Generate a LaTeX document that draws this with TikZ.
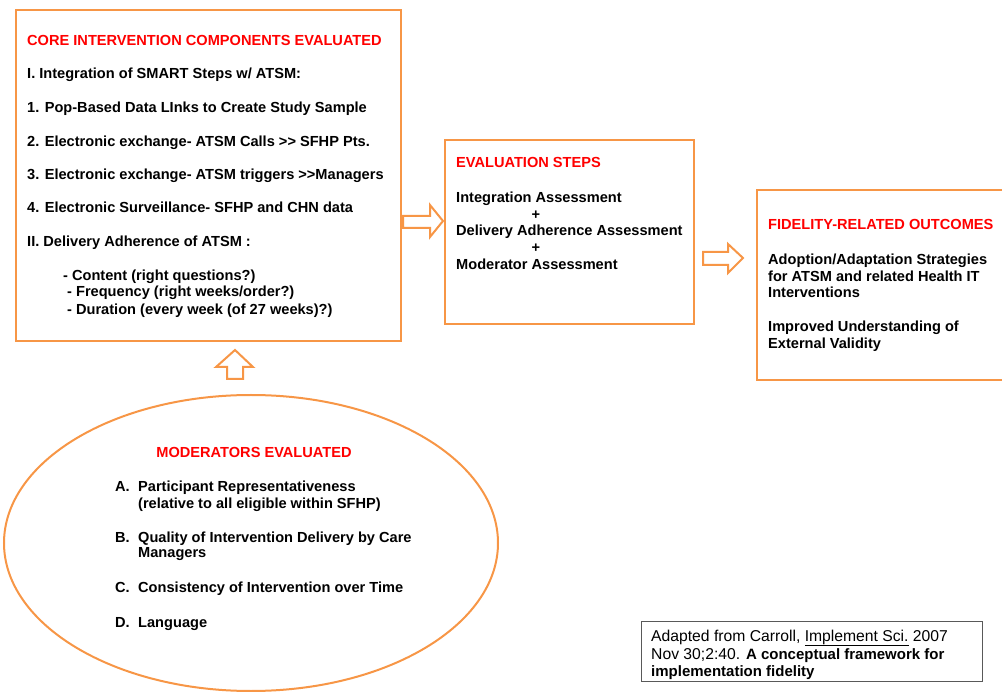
\documentclass[tikz,border=0pt]{standalone}
\usepackage{fontspec}
\setmainfont[Ligatures=NoCommon]{Liberation Sans}
\usetikzlibrary{shapes.geometric}
\definecolor{orng}{RGB}{247,150,70}
\definecolor{hred}{RGB}{255,0,0}
\newcommand{\citebf}[1]{{\fontsize{15}{18}\selectfont\bfseries #1}}
\begin{document}
\begin{tikzpicture}[x=1pt,y=-1pt,
  box/.style={draw=orng,line width=2pt,anchor=north west,inner sep=0pt},
  txt/.style={anchor=base west,inner sep=0pt,font=\fontsize{14.6}{16}\selectfont\bfseries},
  head/.style={txt,text=hred},
  ctr/.style={anchor=base,inner sep=0pt,font=\fontsize{14.6}{16}\selectfont\bfseries},
  cit/.style={anchor=base west,inner sep=0pt,font=\fontsize{15.7}{18}\selectfont},
  harrow/.style={draw=orng,line width=2pt,fill=white,line join=miter}]
\useasboundingbox (0,0) rectangle (1002,692);
% boxes
\node[box,minimum width=385pt,minimum height=331pt] (core) at (15,9) {};
\node[box,minimum width=249pt,minimum height=184pt] (steps) at (444,139) {};
\node[box,minimum width=260pt,minimum height=190pt] (outc) at (756,189) {};
\node[draw=orng,line width=2pt,ellipse,minimum width=494pt,minimum height=296pt,inner sep=0pt] (mod) at (251,543) {};
\node[draw=black!65,line width=1pt,anchor=north west,minimum width=341pt,minimum height=60pt,inner sep=0pt] (cite) at (641,621) {};
% core texts
\node[head] (c0) at (27,46) {CORE INTERVENTION COMPONENTS EVALUATED};
\node[txt] (c1) at (27,79) {I. Integration of SMART Steps w/ ATSM:};
\node[txt] (c2) at (27,113) {1. Pop-Based Data LInks to Create Study Sample};
\node[txt] (c3) at (27,147) {2. Electronic exchange- ATSM Calls {>}{>} SFHP Pts.};
\node[txt] (c4) at (27,180) {3. Electronic exchange- ATSM triggers {>}{>}Managers};
\node[txt] (c5) at (27,213) {4. Electronic Surveillance- SFHP and CHN data};
\node[txt] (c6) at (27,247) {II. Delivery Adherence of ATSM :};
\node[txt] (c7) at (63,281) {- Content (right questions?)};
\node[txt] (c8) at (67,297) {- Frequency (right weeks/order?)};
\node[txt] (c9) at (67,315) {- Duration (every week (of 27 weeks)?)};
% steps texts
\node[head] (s0) at (456,168) {EVALUATION STEPS};
\node[txt] (s1) at (456,203) {Integration Assessment};
\node[ctr] (s2) at (536,220) {+};
\node[txt] (s3) at (456,236) {Delivery Adherence Assessment};
\node[ctr] (s4) at (536,253) {+};
\node[txt] (s5) at (456,270) {Moderator Assessment};
% outcome texts
\node[head] (o0) at (768,230) {FIDELITY-RELATED OUTCOMES};
\node[txt] (o1) at (768,265) {Adoption/Adaptation Strategies};
\node[txt] (o2) at (768,282) {for ATSM and related Health IT};
\node[txt] (o3) at (768,298) {Interventions};
\node[txt] (o4) at (768,332) {Improved Understanding of};
\node[txt] (o5) at (768,349) {External Validity};
% moderators texts
\node[ctr,text=hred] (m0) at (254,458) {MODERATORS EVALUATED};
\node[txt] (ma) at (115,492) {A.};
\node[txt] (ma1) at (138,492) {Participant Representativeness};
\node[txt] (ma2) at (138,508) {(relative to all eligible within SFHP)};
\node[txt] (mb) at (115,542) {B.};
\node[txt] (mb1) at (138,542) {Quality of Intervention Delivery by Care};
\node[txt] (mb2) at (138,558) {Managers};
\node[txt] (mc) at (115,592) {C.};
\node[txt] (mc1) at (138,592) {Consistency of Intervention over Time};
\node[txt] (md) at (115,627) {D.};
\node[txt] (md1) at (138,627) {Language};
% citation
\node[cit] (t1) at (651,641) {Adapted from Carroll, \underline{Implement Sci.} 2007};
\node[cit] (t2) at (651,659) {Nov 30;2:40. \citebf{A conceptual framework for}};
\node[cit] (t3) at (651,676) {\citebf{implementation fidelity}};
% hollow arrows
\draw[harrow] (403,216) -- (430,216) -- (430,205) -- (443,221) -- (430,237) -- (430,228) -- (403,228) -- cycle;
\draw[harrow] (703,252) -- (728,252) -- (728,244) -- (743,258) -- (728,273) -- (728,265) -- (703,265) -- cycle;
\draw[harrow] (227,379) -- (227,367) -- (216,367) -- (235,350) -- (253,367) -- (243,367) -- (243,379) -- cycle;
\end{tikzpicture}
\end{document}
